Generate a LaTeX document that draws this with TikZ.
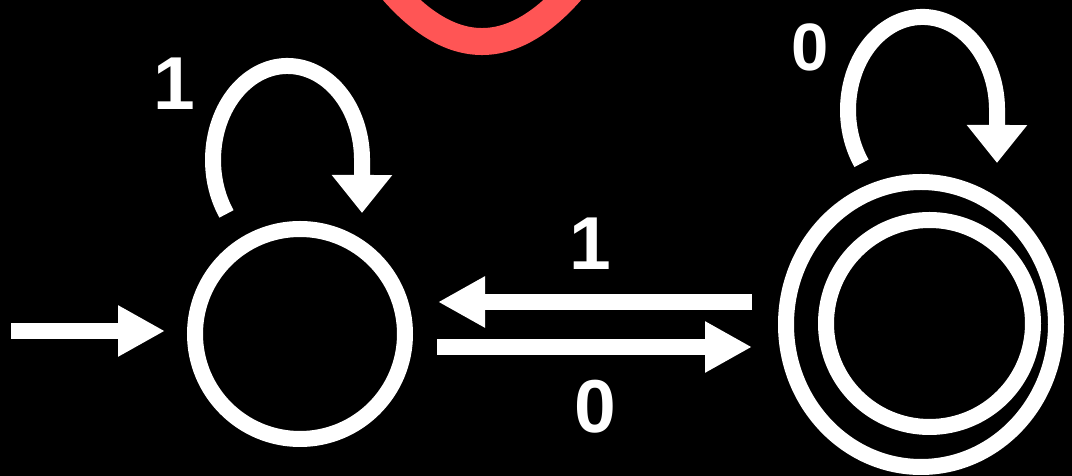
\documentclass[tikz,border=0pt]{standalone}
\usepackage{fontspec}
\setmainfont{Liberation Sans}
\usetikzlibrary{arrows.meta,shapes.geometric,calc}
\definecolor{redarc}{RGB}{255,85,85}
\begin{document}
\begin{tikzpicture}[x=1pt,y=1pt,
  state/.style={circle,draw=white,line width=16pt,inner sep=0pt,outer sep=0pt,minimum size=#1},
  ring/.style={ellipse,draw=white,line width=16pt,inner sep=0pt,outer sep=0pt},
  wire/.style={draw=white,line width=16pt},
  bigtip/.style={-{Triangle[length=47pt,width=48pt]}},
  looptip/.style={-{Triangle[length=38pt,width=58pt]}},
  lbl/.style={text=white,inner sep=0pt,font=\bfseries\fontsize{75}{75}\selectfont},
  lblsmall/.style={text=white,inner sep=0pt,font=\bfseries\fontsize{67}{67}\selectfont}]
\fill[black] (0,0) rectangle (1072,476);
\useasboundingbox (0,0) rectangle (1072,476);
% red partial curve at top
\begin{scope}
\clip (0,0) rectangle (1072,476);
\draw[redarc,line width=27pt] (372,511.5) .. controls (445.3,408.8) and (518.7,408.8) .. (592,511.5);
\end{scope}
% states
\node[state=210pt] (q0) at (300,142) {};
\node[ring,minimum width=270pt,minimum height=285pt] (q1o) at (921,151.5) {};
\node[state=207pt] (q1) at (929.5,152.5) {};
% initial arrow
\coordinate (start) at (11,145);
\draw[wire,bigtip] (start) -- ($(q0.west)+(-30,3)$);
% transitions between states
\draw[wire,bigtip] ($(q1o.west)+(-34,22.5)$) -- ($(q0.east|-q1o.west)+(33,22.5)$);
\draw[wire,bigtip] ($(q0.east|-q1o.west)+(32,-22.5)$) -- ($(q1o.west)+(-34,-22.5)$);
% self loops
\draw[wire,looptip] ($(q0)+(-73.5,120.1)$) arc[start angle=215,end angle=0,x radius=74.5,y radius=94] -- ($(q0)+(62,121)$);
\draw[wire,looptip] ($(q1o)+(-59.5,161.2)$) arc[start angle=215,end angle=0,x radius=74.5,y radius=93] -- ($(q1o)+(76,161.5)$);
% labels
\node[lbl] (l1) at (174,392.5) {1};
\node[lbl] (m1) at (590,232) {1};
\node[lbl] (m0) at (595,69) {0};
\node[lblsmall] (r0) at (810,429) {0};
\end{tikzpicture}
\end{document}
